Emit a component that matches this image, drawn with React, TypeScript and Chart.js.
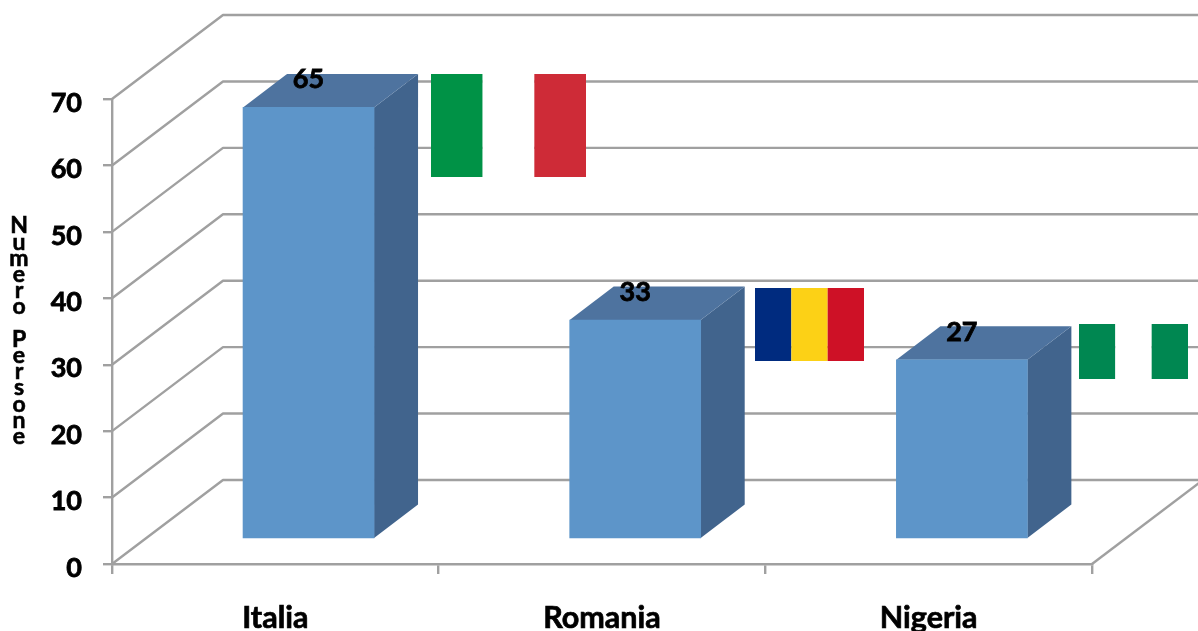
import React, { useEffect, useRef } from "react";
import { Chart, registerables } from "chart.js";

Chart.register(...registerables);

const categories = ["Italia", "Romania", "Nigeria"];
const people = [65, 33, 27];
const yMax = 70;
const yStep = 10;
const yTitleLetters = ["N", "u", "m", "e", "r", "o", " ", "P", "e", "r", "s", "o", "n", "e"];
const flagStripes = [
  ["#009246", "#ffffff", "#ce2b37"],
  ["#002b7f", "#fcd116", "#ce1126"],
  ["#008751", "#ffffff", "#008751"],
];

// Layout constants
const W = 1198;
const H = 631;
const GRID = "#a0a0a0";
const LINE = 2.4;
const FONT = "Lato, Carlito, sans-serif";
const WALL_DX = 111;
const WALL_DY = -84;
const BAR_SHIFT_X = 33.2;
const BAR_SHIFT_Y = -24.8;
const BAR_DX = 44;
const BAR_DY = -33.5;
const FLAG_BOXES = [
  { x: 431, y: 74, w: 155, h: 103 },
  { x: 755, y: 288, w: 109, h: 73 },
  { x: 1079, y: 324, w: 109, h: 55 },
];

const threeD = {
  id: "threeD",
  beforeDatasetsDraw(chart: any) {
    const { ctx, chartArea, scales } = chart;
    const y = scales.y;
    ctx.save();
    ctx.strokeStyle = GRID;
    ctx.lineWidth = LINE;
    ctx.lineJoin = "round";
    for (let v = 0; v <= yMax; v += yStep) {
      const py = y.getPixelForValue(v);
      ctx.beginPath();
      ctx.moveTo(chartArea.left, py);
      ctx.lineTo(chartArea.left + WALL_DX, py + WALL_DY);
      ctx.lineTo(chartArea.right + WALL_DX, py + WALL_DY);
      ctx.stroke();
    }
    // floor right edge
    const p0 = y.getPixelForValue(0);
    ctx.beginPath();
    ctx.moveTo(chartArea.right, p0);
    ctx.lineTo(chartArea.right + WALL_DX, p0 + WALL_DY);
    ctx.stroke();
    // flags
    FLAG_BOXES.forEach((b, i) => {
      const sw = b.w / 3;
      flagStripes[i].forEach((c, k) => {
        ctx.fillStyle = c;
        ctx.fillRect(b.x + k * sw, b.y, sw, b.h);
      });
    });
    ctx.restore();
    // side and top faces of the bars
    const meta = chart.getDatasetMeta(0);
    ctx.save();
    meta.data.forEach((bar: any) => {
      const half = bar.width / 2;
      const l = bar.x - half + BAR_SHIFT_X;
      const r = bar.x + half + BAR_SHIFT_X;
      const t = bar.y + BAR_SHIFT_Y;
      const b = bar.base + BAR_SHIFT_Y;
      ctx.fillStyle = "#41648d";
      ctx.beginPath();
      ctx.moveTo(r, t);
      ctx.lineTo(r + BAR_DX, t + BAR_DY);
      ctx.lineTo(r + BAR_DX, b + BAR_DY);
      ctx.lineTo(r, b);
      ctx.closePath();
      ctx.fill();
      ctx.fillStyle = "#4e739f";
      ctx.beginPath();
      ctx.moveTo(l, t);
      ctx.lineTo(l + BAR_DX, t + BAR_DY);
      ctx.lineTo(r + BAR_DX, t + BAR_DY);
      ctx.lineTo(r, t);
      ctx.closePath();
      ctx.fill();
    });
    ctx.restore();
  },
  beforeDatasetDraw(chart: any) {
    chart.ctx.save();
    chart.ctx.translate(BAR_SHIFT_X, BAR_SHIFT_Y);
  },
  afterDatasetDraw(chart: any) {
    chart.ctx.restore();
  },
  afterDatasetsDraw(chart: any) {
    const { ctx } = chart;
    const meta = chart.getDatasetMeta(0);
    ctx.save();
    ctx.fillStyle = "#000";
    ctx.strokeStyle = "#000";
    ctx.textAlign = "center";
    ctx.textBaseline = "middle";
    ctx.font = `bold 27px ${FONT}`;
    ctx.lineWidth = 0.8;
    meta.data.forEach((bar: any, i: number) => {
      const px = bar.x + BAR_SHIFT_X;
      const py = bar.y + BAR_SHIFT_Y - 28;
      ctx.fillText(String(people[i]), px, py);
      ctx.strokeText(String(people[i]), px, py);
    });
    ctx.font = `bold 23px ${FONT}`;
    ctx.lineWidth = 0.6;
    yTitleLetters.forEach((ch, i) => {
      if (ch !== " ") {
        ctx.fillText(ch, 19, 226 + i * 16.2);
        ctx.strokeText(ch, 19, 226 + i * 16.2);
      }
    });
    ctx.restore();
  },
};

export default function App() {
  const ref = useRef<HTMLCanvasElement>(null);
  useEffect(() => {
    const chart = new Chart(ref.current!, {
      type: "bar",
      data: {
        labels: categories,
        datasets: [
          {
            label: "Numero Persone",
            data: people,
            backgroundColor: "#5d95c9",
            borderWidth: 0,
            barThickness: 131,
          },
        ],
      },
      options: {
        animation: false,
        responsive: false,
        clip: false,
        layout: { padding: { top: 99, right: 106, left: 0, bottom: 0 } },
        plugins: { legend: { display: false }, tooltip: { enabled: false }, title: { display: false } },
        scales: {
          x: {
            afterFit: (s: any) => {
              s.height = 67;
            },
            border: { color: GRID, width: LINE },
            grid: { offset: true, drawOnChartArea: false, color: GRID, lineWidth: LINE, tickLength: 10 },
            ticks: {
              color: "#000",
              font: { family: FONT, size: 30.5, weight: "bold" },
              padding: 26,
              autoSkip: false,
              maxRotation: 0,
              minRotation: 0,
              textStrokeColor: "#000",
              textStrokeWidth: 0.7,
            },
          },
          y: {
            min: 0,
            max: yMax,
            afterFit: (s: any) => {
              s.width = 112;
            },
            border: { color: GRID, width: LINE },
            grid: { drawOnChartArea: false, color: GRID, lineWidth: LINE, tickLength: 9 },
            ticks: {
              stepSize: yStep,
              color: "#000",
              font: { family: FONT, size: 27, weight: "bold" },
              padding: 21,
              labelOffset: 4,
              textStrokeColor: "#000",
              textStrokeWidth: 0.8,
            },
          },
        },
      },
      plugins: [threeD],
    } as any);
    return () => chart.destroy();
  }, []);
  return (
    <div style={{ position: "absolute", left: 0, top: 0, width: W, height: H, background: "#fff" }}>
      <canvas ref={ref} width={W} height={H} style={{ display: "block" }} />
    </div>
  );
}
